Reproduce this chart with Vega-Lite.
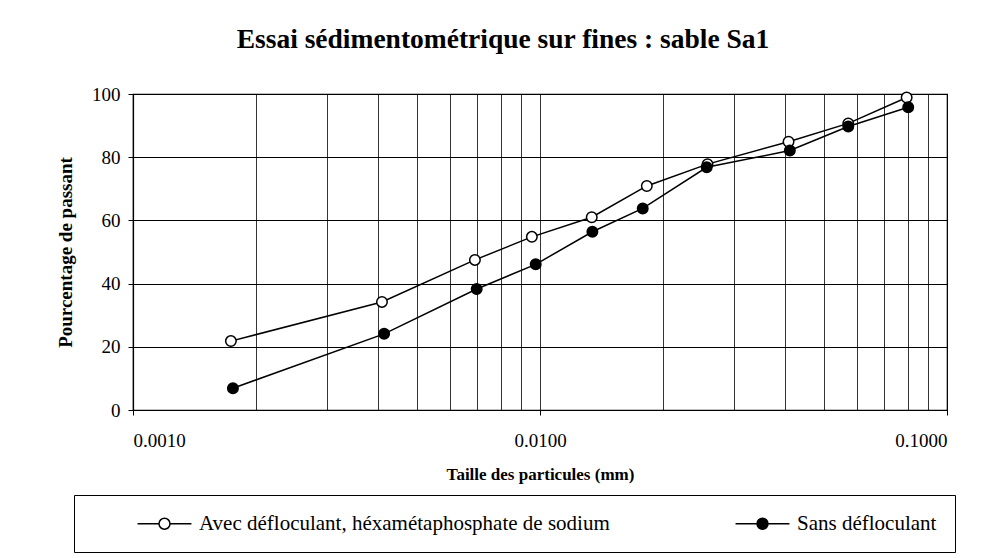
{
  "$schema": "https://vega.github.io/schema/vega-lite/v6.json",
  "width": 814,
  "height": 316,
  "autosize": "none",
  "padding": {"left": 133, "top": 94, "right": 54, "bottom": 148},
  "background": "white",
  "title": {
    "text": "Essai sédimentométrique sur fines : sable Sa1",
    "font": "Liberation Serif",
    "fontSize": 27.5,
    "fontWeight": "bold",
    "color": "black",
    "anchor": "middle",
    "dx": -37,
    "offset": 32
  },
  "data": {
    "values": [
      {"d": 0.00174, "p": 21.8, "serie": "Avec défloculant, héxamétaphosphate de sodium"},
      {"d": 0.00409, "p": 34.2, "serie": "Avec défloculant, héxamétaphosphate de sodium"},
      {"d": 0.00692, "p": 47.5, "serie": "Avec défloculant, héxamétaphosphate de sodium"},
      {"d": 0.00955, "p": 54.8, "serie": "Avec défloculant, héxamétaphosphate de sodium"},
      {"d": 0.0134, "p": 61.0, "serie": "Avec défloculant, héxamétaphosphate de sodium"},
      {"d": 0.0183, "p": 70.9, "serie": "Avec défloculant, héxamétaphosphate de sodium"},
      {"d": 0.0258, "p": 77.8, "serie": "Avec défloculant, héxamétaphosphate de sodium"},
      {"d": 0.0408, "p": 84.9, "serie": "Avec défloculant, héxamétaphosphate de sodium"},
      {"d": 0.0572, "p": 90.7, "serie": "Avec défloculant, héxamétaphosphate de sodium"},
      {"d": 0.0796, "p": 98.9, "serie": "Avec défloculant, héxamétaphosphate de sodium"},
      {"d": 0.00176, "p": 6.9, "serie": "Sans défloculant"},
      {"d": 0.00414, "p": 24.1, "serie": "Sans défloculant"},
      {"d": 0.00699, "p": 38.3, "serie": "Sans défloculant"},
      {"d": 0.00976, "p": 46.1, "serie": "Sans défloculant"},
      {"d": 0.01345, "p": 56.4, "serie": "Sans défloculant"},
      {"d": 0.01788, "p": 63.8, "serie": "Sans défloculant"},
      {"d": 0.02568, "p": 76.8, "serie": "Sans défloculant"},
      {"d": 0.0411, "p": 82.1, "serie": "Sans défloculant"},
      {"d": 0.0572, "p": 89.7, "serie": "Sans défloculant"},
      {"d": 0.0803, "p": 95.8, "serie": "Sans défloculant"}
    ]
  },
  "encoding": {
    "x": {
      "field": "d",
      "type": "quantitative",
      "scale": {"type": "log", "domain": [0.001, 0.1], "nice": false},
      "axis": {
        "title": "Taille des particules (mm)",
        "values": [0.001, 0.002, 0.003, 0.004, 0.005, 0.006, 0.007, 0.008, 0.009, 0.01, 0.02, 0.03, 0.04, 0.05, 0.06, 0.07, 0.08, 0.09, 0.1],
        "labelExpr": "abs(log(datum.value)/LN10 - round(log(datum.value)/LN10)) < 0.001 ? format(datum.value, '.4f') : ''",
        "labelOverlap": false,
        "labelFont": "Liberation Serif",
        "labelFontSize": 19,
        "labelColor": "black",
        "labelPadding": 16,
        "tickSize": 5,
        "tickColor": "black",
        "tickOpacity": {"condition": {"test": "abs(log(datum.value)/LN10 - round(log(datum.value)/LN10)) < 0.001", "value": 1}, "value": 0},
        "grid": true,
        "gridColor": "black",
        "gridWidth": 0.8,
        "gridOpacity": 1,
        "domainColor": "black",
        "domainWidth": 1.2,
        "titleFont": "Liberation Serif",
        "titleFontSize": 17,
        "titleFontWeight": "bold",
        "titleColor": "black",
        "titlePadding": 16
      }
    },
    "y": {
      "field": "p",
      "type": "quantitative",
      "scale": {"domain": [0, 100], "nice": false},
      "axis": {
        "title": "Pourcentage de passant",
        "values": [0, 20, 40, 60, 80, 100],
        "labelFont": "Liberation Serif",
        "labelFontSize": 19,
        "labelColor": "black",
        "labelPadding": 8,
        "tickSize": 5,
        "tickColor": "black",
        "grid": true,
        "gridColor": "black",
        "gridWidth": 1.2,
        "gridOpacity": 1,
        "domainColor": "black",
        "domainWidth": 1.2,
        "titleFont": "Liberation Serif",
        "titleFontSize": 19,
        "titleFontWeight": "bold",
        "titleColor": "black",
        "titlePadding": 16
      }
    }
  },
  "layer": [
    {
      "mark": {"type": "line", "color": "black", "strokeWidth": 1.5},
      "encoding": {"detail": {"field": "serie", "type": "nominal"}}
    },
    {
      "mark": {"type": "point", "shape": "circle", "filled": true, "size": 110, "stroke": "black", "strokeWidth": 1.5, "opacity": 1},
      "encoding": {
        "fill": {
          "field": "serie",
          "type": "nominal",
          "scale": {"domain": ["Avec défloculant, héxamétaphosphate de sodium", "Sans défloculant"], "range": ["white", "black"]},
          "legend": {
            "title": null,
            "orient": "none",
            "legendX": -59,
            "legendY": 401,
            "direction": "horizontal",
            "strokeColor": "black",
            "fillColor": "white",
            "padding": 18,
            "symbolType": "M-4.9,0H-1M1,0H4.9M-1,0A1,1,0,1,1,1,0A1,1,0,1,1,-1,0Z",
            "symbolSize": 121,
            "symbolStrokeColor": "black",
            "symbolStrokeWidth": 1.5,
            "symbolOffset": 62,
            "labelOffset": 24,
            "columnPadding": 80,
            "labelFont": "Liberation Serif",
            "labelFontSize": 21,
            "labelColor": "black",
            "labelLimit": 600
          }
        }
      }
    }
  ],
  "config": {
    "view": {"stroke": "black", "strokeWidth": 1.2}
  }
}
